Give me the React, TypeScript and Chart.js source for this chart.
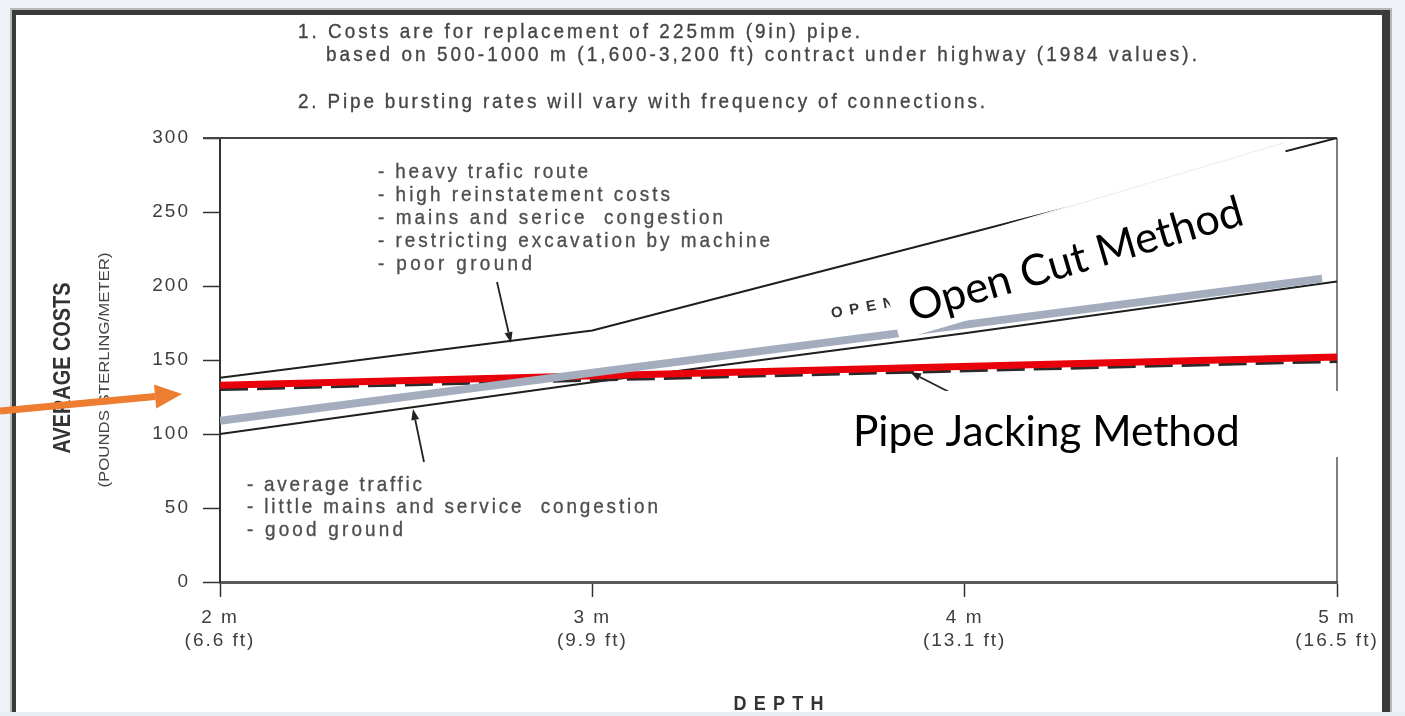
import React, { useEffect, useRef } from 'react';
import { Chart, registerables } from 'chart.js';

Chart.register(...registerables);

// ---------- data ----------
const depthTicks = [2, 3, 4, 5];
const depthMetres = ['2 m', '3 m', '4 m', '5 m'];
const depthFeet = ['(6.6 ft)', '(9.9 ft)', '(13.1 ft)', '(16.5 ft)'];

const openCutDepths = [2, 3, 4, 5];
const openCutHeavy = [138, 170, 235, 300];
const openCutAverage = [100, 135, 168, 203];

const pipeBurstDepths = [2, 4.96];
const pipeBurstCosts = [109, 205];

const pipeJackDepths = [2, 5];
const pipeJackCosts = [133, 152];
const pipeJackOriginal = [130, 149];

const notes = [
  '1. Costs are for replacement of 225mm (9in) pipe.',
  'based on 500-1000 m (1,600-3,200 ft) contract under highway (1984 values).',
  '2. Pipe bursting rates will vary with frequency of connections.',
];
const heavyNotes = [
  '- heavy trafic route',
  '- high reinstatement costs',
  '- mains and serice  congestion',
  '- restricting excavation by machine',
  '- poor ground',
];
const averageNotes = ['- average traffic', '- little mains and service  congestion', '- good ground'];

const yTitle = 'AVERAGE COSTS';
const ySubTitle = '(POUNDS STERLING/METER)';
const xTitle = 'DEPTH';
const openCutLabel = 'Open Cut Method';
const pipeJackLabel = 'Pipe Jacking Method';
const openScanLabel = 'OPEN';

const W = 1405;
const H = 716;
const SANS = '"Liberation Sans", Arial, sans-serif';
const CAL = 'Lato, "Open Sans", sans-serif';

function pts(xs: number[], ys: number[]) {
  return xs.map((x, i) => ({ x, y: ys[i] }));
}

// text stretched by letter spacing to a given visible width (optionally condensed by sx)
function spaced(ctx: any, text: string, x: number, y: number, width: number, font: string, color: string, sx = 1, thicken = 0) {
  ctx.save();
  ctx.font = font;
  ctx.letterSpacing = '0px';
  const w = ctx.measureText(text).width;
  const sp = Math.max(0, (width / sx - w) / Math.max(1, text.length - 1));
  ctx.translate(x, y);
  ctx.scale(sx, 1);
  ctx.letterSpacing = sp + 'px';
  ctx.fillStyle = color;
  ctx.textAlign = 'left';
  ctx.textBaseline = 'middle';
  ctx.fillText(text, 0, 0);
  if (thicken > 0) {
    ctx.strokeStyle = color;
    ctx.lineWidth = thicken;
    ctx.strokeText(text, 0, 0);
  }
  ctx.restore();
}

// text scaled horizontally to a width, centred on (cx, cy), rotated by rot
function scaledText(ctx: any, text: string, cx: number, cy: number, width: number, font: string, color: string, rot: number) {
  ctx.save();
  ctx.font = font;
  ctx.letterSpacing = '0px';
  const w = ctx.measureText(text).width;
  ctx.translate(cx, cy);
  ctx.rotate(rot);
  ctx.scale(width / w, 1);
  ctx.fillStyle = color;
  ctx.textAlign = 'center';
  ctx.textBaseline = 'middle';
  ctx.fillText(text, 0, 0);
  ctx.restore();
}

function arrow(ctx: any, x1: number, y1: number, x2: number, y2: number, color: string, lw: number, hl: number, hw: number) {
  const a = Math.atan2(y2 - y1, x2 - x1);
  const bx = x2 - hl * Math.cos(a);
  const by = y2 - hl * Math.sin(a);
  ctx.save();
  ctx.strokeStyle = color;
  ctx.lineWidth = lw;
  ctx.beginPath();
  ctx.moveTo(x1, y1);
  ctx.lineTo(bx, by);
  ctx.stroke();
  ctx.fillStyle = color;
  ctx.beginPath();
  ctx.moveTo(x2, y2);
  ctx.lineTo(bx + hw * Math.sin(a), by - hw * Math.cos(a));
  ctx.lineTo(bx - hw * Math.sin(a), by + hw * Math.cos(a));
  ctx.closePath();
  ctx.fill();
  ctx.restore();
}

const overlayPlugin = {
  id: 'scanOverlay',
  beforeDraw(chart: any) {
    const ctx = chart.ctx;
    ctx.save();
    ctx.fillStyle = '#eef2f7';
    ctx.fillRect(0, 0, W, H);
    ctx.fillStyle = '#b8b8b8';
    ctx.fillRect(10, 8, 1382, H);
    ctx.fillStyle = '#3a3a3a';
    ctx.fillRect(12, 10, 1378, H);
    ctx.fillStyle = '#ffffff';
    ctx.fillRect(16, 15, 1366, H);
    ctx.restore();
    ctx.letterSpacing = '2px';
  },
  beforeDatasetsDraw(chart: any) {
    const ctx = chart.ctx;
    ctx.letterSpacing = '0px';
    const { left, right, top, bottom } = chart.chartArea;
    ctx.save();
    ctx.strokeStyle = '#444';
    ctx.lineWidth = 2;
    ctx.beginPath();
    ctx.moveTo(left - 17, top);
    ctx.lineTo(right, top);
    ctx.stroke();
    ctx.strokeStyle = '#555';
    ctx.lineWidth = 1.5;
    ctx.beginPath();
    ctx.moveTo(right, top);
    ctx.lineTo(right, bottom);
    ctx.stroke();
    ctx.restore();
  },
  afterDatasetsDraw(chart: any) {
    const ctx = chart.ctx;
    const ca = chart.chartArea;
    ctx.save();
    ctx.letterSpacing = '0px';

    // notes at the top
    const noteFont = '21px ' + SANS;
    spaced(ctx, notes[0], 298, 32, 562, noteFont, '#454545', 0.9, 0.35);
    spaced(ctx, notes[1], 326, 55, 871, noteFont, '#454545', 0.9, 0.35);
    spaced(ctx, notes[2], 298, 102, 687, noteFont, '#454545', 0.9, 0.35);

    // annotation blocks
    const annFont = '21px ' + SANS;
    const heavyW = [210, 292, 345, 392, 154];
    heavyNotes.forEach((t, i) => spaced(ctx, t, 378, 172 + i * 23, heavyW[i], annFont, '#4e4e4e', 0.9, 0.35));
    const avgW = [175, 411, 156];
    averageNotes.forEach((t, i) => spaced(ctx, t, 247, 485 + i * 22.5, avgW[i], annFont, '#4e4e4e', 0.9, 0.35));

    // annotation arrows
    arrow(ctx, 497, 282, 511, 343, '#222', 1.8, 11, 4);
    arrow(ctx, 424, 462, 413, 409, '#222', 1.8, 11, 4);
    arrow(ctx, 955, 395, 910, 372, '#222', 1.8, 11, 4);

    // scanned "OPEN" label
    ctx.save();
    ctx.translate(832, 318);
    ctx.rotate(-0.18);
    ctx.font = 'bold 15px ' + SANS;
    ctx.letterSpacing = '7px';
    ctx.fillStyle = '#333';
    ctx.textBaseline = 'alphabetic';
    ctx.fillText(openScanLabel, 0, 0);
    ctx.restore();

    // white pasted box: Open Cut Method
    ctx.save();
    ctx.fillStyle = '#ffffff';
    ctx.beginPath();
    ctx.moveTo(900, 340);
    ctx.lineTo(878, 262);
    ctx.lineTo(1283, 143);
    ctx.lineTo(1306, 221);
    ctx.closePath();
    ctx.fill();
    ctx.strokeStyle = '#ececec';
    ctx.lineWidth = 1;
    ctx.beginPath();
    ctx.moveTo(1035, 217);
    ctx.lineTo(1283, 143);
    ctx.stroke();
    ctx.restore();

    ctx.save();
    ctx.font = '40px ' + CAL;
    const ocw = ctx.measureText(openCutLabel).width;
    const ocSize = 40 * 347 / ocw;
    ctx.font = ocSize + 'px ' + CAL;
    ctx.translate(913, 322);
    ctx.rotate(-Math.atan2(98, 333));
    ctx.fillStyle = '#000';
    ctx.textBaseline = 'alphabetic';
    ctx.fillText(openCutLabel, 0, 0);
    ctx.restore();

    // white pasted box: Pipe Jacking Method
    ctx.save();
    ctx.fillStyle = '#ffffff';
    ctx.fillRect(829, 391, ca.right + 2 - 829, 66);
    ctx.font = '40px ' + CAL;
    const pjw = ctx.measureText(pipeJackLabel).width;
    const pjSize = 40 * 387 / pjw;
    ctx.font = pjSize + 'px ' + CAL;
    ctx.fillStyle = '#000';
    ctx.textBaseline = 'alphabetic';
    ctx.fillText(pipeJackLabel, 853, 446);
    ctx.restore();

    // axis titles
    scaledText(ctx, yTitle, 64, 368, 171, 'bold 23px ' + SANS, '#333', -Math.PI / 2);
    scaledText(ctx, ySubTitle, 105, 370, 235, '15px ' + SANS, '#444', -Math.PI / 2);
    spaced(ctx, xTitle, (ca.left + ca.right) / 2 - 45, 704, 90, 'bold 20px ' + SANS, '#333', 0.9);

    // orange pointer arrow
    arrow(ctx, 0, 411, 182, 394, '#ED7D31', 7, 27, 12);

    ctx.restore();
  },
  afterDraw(chart: any) {
    const ctx = chart.ctx;
    ctx.save();
    ctx.fillStyle = '#e9eef5';
    ctx.fillRect(0, 712, W, H - 712);
    ctx.restore();
  },
};

export default function App() {
  const ref = useRef<HTMLCanvasElement>(null);
  useEffect(() => {
    document.body.style.margin = '0';
    const tickFont = { family: SANS, size: 19, lineHeight: 1.22 };
    const chart = new Chart(ref.current as HTMLCanvasElement, {
      type: 'line',
      data: {
        datasets: [
          { label: 'Pipe bursting', data: pts(pipeBurstDepths, pipeBurstCosts), borderColor: '#a3adbe', borderWidth: 8, borderCapStyle: 'butt' },
          { label: 'Pipe jacking', data: pts(pipeJackDepths, pipeJackCosts), borderColor: '#e8000b', borderWidth: 7 },
          { label: 'Pipe jacking (scan)', data: pts(pipeJackDepths, pipeJackOriginal), borderColor: '#2a2a2a', borderWidth: 3, borderDash: [28, 9] },
          { label: 'Open cut - heavy traffic', data: pts(openCutDepths, openCutHeavy), borderColor: '#1e1e1e', borderWidth: 2 },
          { label: 'Open cut - average traffic', data: pts(openCutDepths, openCutAverage), borderColor: '#1e1e1e', borderWidth: 2 },
        ],
      } as any,
      options: {
        responsive: false,
        animation: false,
        events: [],
        layout: { padding: { left: 0, right: 68, top: 138, bottom: 44 } },
        elements: { point: { radius: 0 }, line: { tension: 0 } },
        plugins: { legend: { display: false }, tooltip: { enabled: false }, title: { display: false } },
        scales: {
          x: {
            type: 'linear',
            min: 2,
            max: 5,
            afterFit: (s: any) => { s.height = 90; },
            ticks: {
              stepSize: 1,
              autoSkip: false,
              maxRotation: 0,
              padding: 9,
              color: '#3e3e3e',
              font: tickFont,
              callback: (v: any) => {
                const i = depthTicks.indexOf(Number(v));
                return i >= 0 ? [depthMetres[i], depthFeet[i]] : '';
              },
            },
            grid: { drawOnChartArea: false, drawTicks: true, tickLength: 15, tickColor: '#333', tickWidth: 1.5 },
            border: { display: true, color: '#5a5a5a', width: 3 },
          },
          y: {
            type: 'linear',
            min: 0,
            max: 300,
            afterFit: (s: any) => { s.width = 220; },
            ticks: { stepSize: 50, padding: 13, color: '#3e3e3e', font: tickFont },
            grid: { drawOnChartArea: false, drawTicks: true, tickLength: 17, tickColor: '#333', tickWidth: 1.5 },
            border: { display: true, color: '#333', width: 2 },
          },
        },
      } as any,
      plugins: [overlayPlugin],
    });
    return () => chart.destroy();
  }, []);
  return (
    <div style={{ position: 'fixed', left: 0, top: 0, width: W, height: H }}>
      <canvas ref={ref} width={W} height={H} style={{ width: W, height: H, display: 'block' }} />
    </div>
  );
}
